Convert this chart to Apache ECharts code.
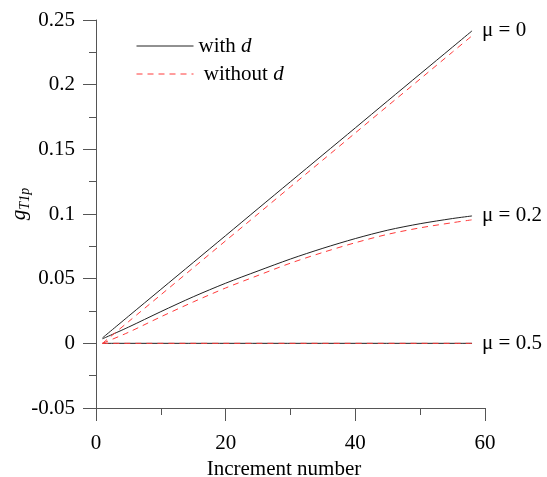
<!DOCTYPE html>
<html>
<head>
<meta charset="utf-8">
<script src="https://cdn.jsdelivr.net/npm/echarts@6/dist/echarts.min.js"></script>
<style>html,body{margin:0;padding:0;background:#fff}#c{width:547px;height:477px}</style>
</head>
<body>
<div id="c"></div>
<script>
// Increment numbers at which values were read
var increments = [1, 5, 10, 15, 20, 25, 30, 35, 40, 45, 50, 55, 58];
// mu = 0
var mu0With    = [0.0042, 0.0209, 0.0417, 0.0625, 0.0833, 0.1042, 0.1250, 0.1458, 0.1666, 0.1875, 0.2083, 0.2291, 0.2416];
var mu0Without = [0.0000, 0.0167, 0.0375, 0.0584, 0.0793, 0.1001, 0.1210, 0.1418, 0.1627, 0.1836, 0.2044, 0.2253, 0.2378];
// mu = 0.2
var mu02With    = [0.0035, 0.0125, 0.0245, 0.0360, 0.0465, 0.0560, 0.0652, 0.0735, 0.0810, 0.0875, 0.0925, 0.0965, 0.0985];
var mu02Without = [0.0000, 0.0085, 0.0205, 0.0320, 0.0428, 0.0525, 0.0620, 0.0703, 0.0778, 0.0843, 0.0893, 0.0933, 0.0955];
// mu = 0.5
var mu05Inc = [1, 58];
var mu05With = [0, 0];
var mu05Without = [0, 0];

var curveLabels = ['μ = 0', 'μ = 0.2', 'μ = 0.5'];
var legendNames = ['with d', 'without d'];
var yTicks = { min: -0.05, max: 0.25, interval: 0.05 };
var xTicks = { min: 0, max: 60, interval: 20 };

var FONT = "'Liberation Serif', 'Times New Roman', serif";
var FS = 21;

function pairs(xs, ys) { return xs.map(function (x, i) { return [x, ys[i]]; }); }

function solid(data, label) {
  return {
    name: legendNames[0], type: 'line', data: data, symbol: 'none', smooth: 0.3,
    lineStyle: { color: '#222', width: 1 }, itemStyle: { color: '#222' },
    endLabel: { show: true, formatter: label, distance: 10, color: '#000', fontFamily: FONT, fontSize: FS },
    z: 2, animation: false
  };
}
function dashed(data) {
  return {
    name: legendNames[1], type: 'line', data: data, symbol: 'none', smooth: 0.3,
    lineStyle: { color: '#ff3a3a', width: 1, type: [6, 5] }, itemStyle: { color: '#ff3a3a' },
    z: 3, animation: false
  };
}

var chart = echarts.init(document.getElementById('c'));
chart.setOption({
  backgroundColor: '#fff',
  animation: false,
  grid: { left: 96, right: 62, top: 20, bottom: 69, containLabel: false, outerBoundsMode: 'none' },
  legend: {
    orient: 'vertical', left: 131, top: 30, itemWidth: 57, itemHeight: 14, itemGap: 6,
    data: legendNames,
    itemStyle: { opacity: 0 },
    lineStyle: { width: 1 },
    formatter: function (n) { return n === 'with d' ? 'with {i|d}' : ' without {i|d}'; },
    textStyle: {
      fontFamily: FONT, fontSize: FS, color: '#000', lineHeight: 22,
      rich: { i: { fontFamily: FONT, fontSize: FS, fontStyle: 'italic', color: '#000', lineHeight: 22 } }
    }
  },
  xAxis: {
    type: 'value', min: xTicks.min, max: xTicks.max, interval: xTicks.interval,
    name: 'Increment number', nameLocation: 'middle', nameGap: 44,
    nameTextStyle: { fontFamily: FONT, fontSize: FS, color: '#000', padding: [0, 13, 0, 0] },
    axisLine: { show: true, onZero: false, lineStyle: { color: '#555', width: 1 } },
    axisTick: { show: true, length: 13, lineStyle: { color: '#555' } },
    minorTick: { show: true, splitNumber: 2, length: 7, lineStyle: { color: '#555' } },
    splitLine: { show: false },
    axisLabel: { fontFamily: FONT, fontSize: FS, color: '#000', margin: 25 }
  },
  yAxis: {
    type: 'value', min: yTicks.min, max: yTicks.max, interval: yTicks.interval,
    axisLine: { show: true, onZero: false, lineStyle: { color: '#555', width: 1 } },
    axisTick: { show: true, length: 13, lineStyle: { color: '#555' } },
    minorTick: { show: true, splitNumber: 2, length: 7, lineStyle: { color: '#555' } },
    splitLine: { show: false },
    axisLabel: { fontFamily: FONT, fontSize: FS, color: '#000', margin: 21 }
  },
  graphic: [{
    type: 'text', x: 19, y: 204, rotation: Math.PI / 2,
    style: {
      text: '{g|g}{s|T1p}', align: 'center', verticalAlign: 'middle',
      rich: {
        g: { fontFamily: FONT, fontSize: FS, fontStyle: 'italic', fill: '#000', lineHeight: 26, verticalAlign: 'middle' },
        s: { fontFamily: FONT, fontSize: 14, fontStyle: 'italic', fill: '#000', lineHeight: 26, verticalAlign: 'bottom', padding: [6, 0, 0, 0] }
      }
    }
  }],
  series: [
    solid(pairs(increments, mu0With), curveLabels[0]),
    solid(pairs(increments, mu02With), curveLabels[1]),
    solid(pairs(mu05Inc, mu05With), curveLabels[2]),
    dashed(pairs(increments, mu0Without)),
    dashed(pairs(increments, mu02Without)),
    dashed(pairs(mu05Inc, mu05Without))
  ]
});
</script>
</body>
</html>
